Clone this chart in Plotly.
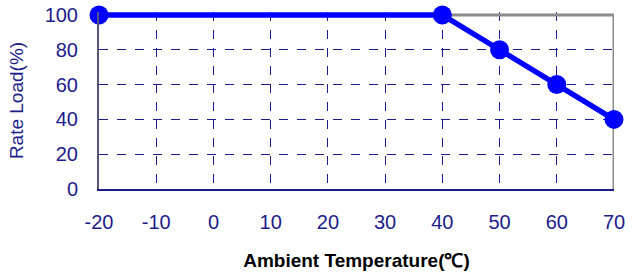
import plotly.graph_objects as go

temps = [-20, 40, 50, 60, 70]
loads = [100, 100, 80, 60, 40]
x_ticks = [-20, -10, 0, 10, 20, 30, 40, 50, 60, 70]
y_ticks = [0, 20, 40, 60, 80, 100]

navy = "#1c1c8a"
fig = go.Figure()
fig.add_trace(go.Scatter(
    x=temps, y=loads, mode="lines+markers",
    line=dict(color="#0000ff", width=5.5),
    marker=dict(color="#0000ff", size=19),
    cliponaxis=False, showlegend=False,
))

fig.update_layout(
    width=637, height=278,
    margin=dict(l=99, r=23, t=12, b=89, autoexpand=False),
    paper_bgcolor="white", plot_bgcolor="white",
    font=dict(family="Liberation Sans, Arial, sans-serif", color=navy, size=20),
    xaxis=dict(
        range=[-20, 70], tickvals=x_ticks, ticktext=[str(v) for v in x_ticks],
        showgrid=True, gridcolor=navy, griddash="dash", gridwidth=1,
        showline=True, linecolor=navy, linewidth=2, zeroline=False,
        ticks="", ticklabelstandoff=14,
        title=dict(text="<b>Ambient Temperature(℃)</b>", font=dict(color="black", size=19), standoff=22),
    ),
    yaxis=dict(
        range=[0, 101.7], tickvals=y_ticks, ticktext=[str(v) for v in y_ticks],
        showgrid=True, gridcolor=navy, griddash="dash", gridwidth=1,
        showline=True, linecolor="#555577", linewidth=2, zeroline=False,
        ticks="", ticklabelstandoff=15,
        title=dict(text="Rate Load(%)", font=dict(color=navy, size=19), standoff=16),
    ),
)
# top and right frame lines in gray, placed at the data extent
fig.add_shape(type="line", xref="x", yref="y", x0=x_ticks[0], x1=x_ticks[-1], y0=y_ticks[-1], y1=y_ticks[-1],
              line=dict(color="#8c8c8c", width=3), layer="between")
fig.add_shape(type="line", xref="x", yref="y", x0=x_ticks[-1], x1=x_ticks[-1], y0=y_ticks[0], y1=y_ticks[-1],
              line=dict(color="#8c8c8c", width=3), layer="between")

fig.write_html("out.html", config={"displayModeBar": False},
               post_script="document.body.style.margin='0';")
